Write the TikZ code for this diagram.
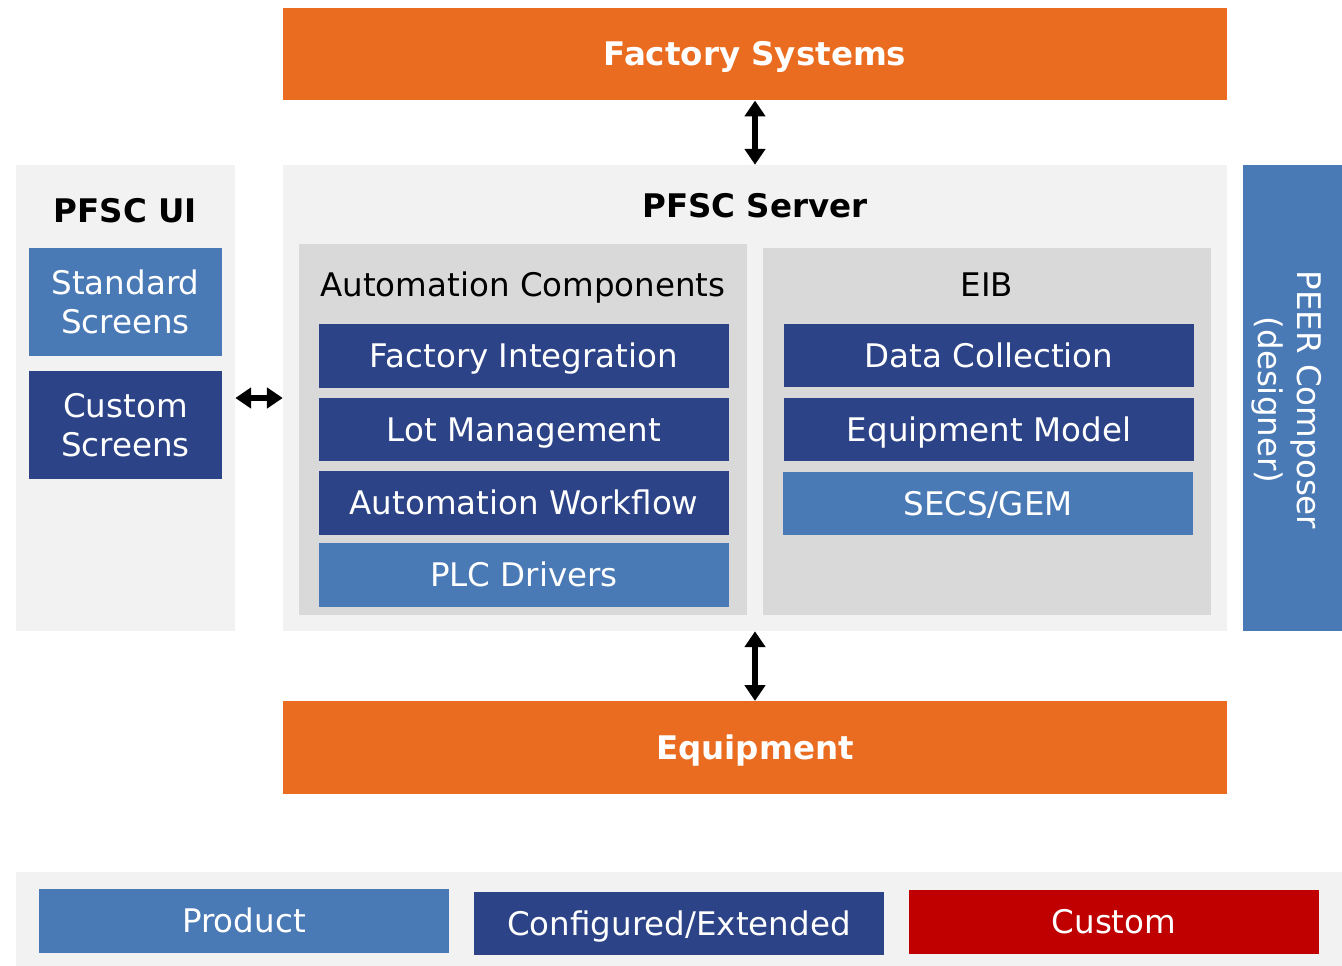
\documentclass[tikz,border=0pt]{standalone}
\usepackage{fontspec}
\setmainfont{DejaVu Sans}
\usepackage{tikz}
\usetikzlibrary{arrows.meta}
\usetikzlibrary{positioning}
\definecolor{morange}{HTML}{E96C20}
\definecolor{lblue}{HTML}{4A7AB5}
\definecolor{dblue}{HTML}{2C4387}
\definecolor{mred}{HTML}{C00000}
\definecolor{lgrey}{HTML}{F2F2F2}
\definecolor{mgrey}{HTML}{D9D9D9}
\tikzset{
  txt/.style = {font = \fontsize{18.5}{22.5}\selectfont, align = center, text height = 13.5pt, text depth = 0pt},
  twolines/.style = {text height = 36pt, text depth = 0pt},
  panel/.style = {fill = lgrey, inner sep = 0, minimum width = #1, minimum height = 9.32cm},
  group/.style = {fill = mgrey, inner sep = 0, minimum width = 8.96cm},
  bar/.style = {fill = morange, inner sep = 0, minimum width = 18.88cm, minimum height = 1.85cm,
    text = white, font = \fontsize{18.5}{22.5}\selectfont\bfseries, text height = 13.5pt, text depth = 0pt},
  prodbox/.style = {txt, fill = lblue, text = white, inner sep = 0, minimum width = 8.2cm, minimum height = 1.27cm},
  confbox/.style = {prodbox, fill = dblue},
  custbox/.style = {prodbox, fill = mred},
  scrbox/.style = {prodbox, twolines, minimum width = 3.86cm, minimum height = 2.18cm},
  link/.style = {line width = 3pt, {Triangle[length = 9pt, width = 11.5pt]}-{Triangle[length = 9pt, width = 11.5pt]}}
}

\begin{document}
\begin{tikzpicture}[x = 0.02cm, y = -0.02cm]
  \useasboundingbox (0, 0) rectangle (1342, 966);

  % top and bottom
  \node [bar] (fs) at (755, 54) {Factory Systems};
  \node [bar] (eq) at (755, 747.5) {Equipment};

  % ui
  \node [panel = 4.38cm] (ui) at (125.5, 398) {};
  \node [txt, font = \fontsize{18.5}{22.5}\selectfont\bfseries] (uititle) at (125.5, 211) {PFSC UI};
  \node [scrbox] (ss) at (125.5, 302) {Standard\\Screens};
  \node [scrbox, fill = dblue] (cs) at (125.5, 425) {Custom\\Screens};

  % server
  \node [panel = 18.88cm] (server) at (755, 398) {};
  \node [txt, font = \fontsize{18.5}{22.5}\selectfont\bfseries] (srvtitle) at (755, 206) {PFSC Server};

  \node [group, minimum height = 7.42cm] (ac) at (523, 429.5) {};
  \node [txt] (actitle) at (523, 285) {Automation Components};
  \node [confbox] (fi) at (524, 356) {Factory Integration};
  \node [confbox] (lm) at (524, 429.5) {Lot Management};
  \node [confbox] (aw) at (524, 503) {Automation Workflow};
  \node [prodbox] (plc) at (524, 575) {PLC Drivers};

  \node [group, minimum height = 7.34cm] (eib) at (987, 431.5) {};
  \node [txt] (eibtitle) at (987, 285) {EIB};
  \node [confbox] (dc) at (989, 355.5) {Data Collection};
  \node [confbox] (em) at (989, 429.5) {Equipment Model};
  \node [prodbox] (sg) at (988, 503.5) {SECS/GEM};

  % designer
  \node [panel = 1.98cm, fill = lblue] (peer) at (1292.5, 398) {};
  \node [txt, twolines, text = white, rotate = -90] (peertxt) at (1290, 400) {PEER Composer\\(designer)};

  % links
  \draw [link] (fs) -- (server);
  \draw [link] (server) -- (eq);
  \draw [link] (ui) -- (server);

  % legend
  \node [fill = lgrey, inner sep = 0, minimum width = 26.52cm, minimum height = 1.88cm] (legend) at (679, 919) {};
  \node [prodbox] (prod) at (244, 921) {Product};
  \node [confbox] (conf) at (679, 923.5) {Configured/Extended};
  \node [custbox] (cust) at (1114, 922) {Custom};
\end{tikzpicture}
\end{document}
